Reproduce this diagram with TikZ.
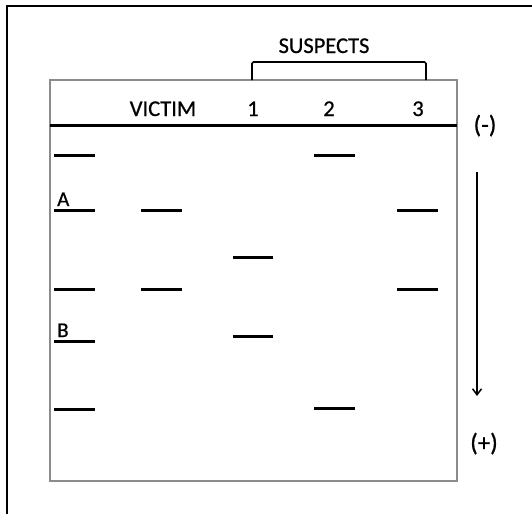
\documentclass[tikz,border=0pt]{standalone}
\usepackage{fontspec}
\setmainfont{Carlito}
\newfontfamily\lblfont[FakeBold=0.7]{Carlito}
\usetikzlibrary{arrows.meta}
\begin{document}
\begin{tikzpicture}[x=1pt,y=-1pt,
  lbl/.style={font=\lblfont\fontsize{22.5}{26}\selectfont,inner sep=0pt,anchor=base},
  sign/.style={font=\lblfont\fontsize{25}{28}\selectfont,inner sep=0pt,anchor=base},
  band/.style={line width=3pt},
  gelbox/.style={draw=black!45,line width=1.5pt}]
\useasboundingbox (0,0) rectangle (532,514);
% outer frame (left and top edges)
\draw[line width=2.2pt] (7,514) -- (7,6) -- (532,6);
% gel box
\draw[gelbox] (50,80) rectangle (457,481);
\draw[line width=2.2pt] (50,125.5) -- (457,125.5);
% header labels
\node[lbl] (victim) at (163,116) {VICTIM};
\node[lbl] (s1) at (253,116) {1};
\node[lbl] (s2) at (329,116) {2};
\node[lbl] (s3) at (418,116) {3};
\node[sign] (minus) at (485,133) {(-)};
\node[sign] (plus) at (484,451) {(+)};
\node[lbl] (susp) at (324,53) {SUSPECTS};
% bracket
\draw[line width=1.6pt,rounded corners=1.5pt] (252,80) -- (252,62) -- (426,62) -- (426,80);
% ladder
\draw[band] (54,155) -- (95,155);
\draw[band] (54,210) -- (95,210);
\draw[band] (54,289) -- (95,289);
\draw[band] (54,341) -- (95,341);
\draw[band] (54,409) -- (95,409);
\node[lbl,font=\lblfont\fontsize{21}{24}\selectfont,anchor=base west] (A) at (57,206) {A};
\node[lbl,font=\lblfont\fontsize{21}{24}\selectfont,anchor=base west] (B) at (57,337) {B};
% victim
\draw[band] (141,210) -- (182,210);
\draw[band] (141,289) -- (182,289);
% suspect 1
\draw[band] (233,257) -- (273,257);
\draw[band] (233,336) -- (273,336);
% suspect 2
\draw[band] (314,155) -- (355,155);
\draw[band] (314,408) -- (355,408);
% suspect 3
\draw[band] (397,210) -- (438,210);
\draw[band] (397,289) -- (438,289);
% migration arrow
\coordinate (atop) at (477,172);
\coordinate (abot) at (477,396);
\draw[line width=1.5pt,-{Straight Barb[length=6pt,width=9pt]}] (atop) -- (abot);
\end{tikzpicture}
\end{document}
